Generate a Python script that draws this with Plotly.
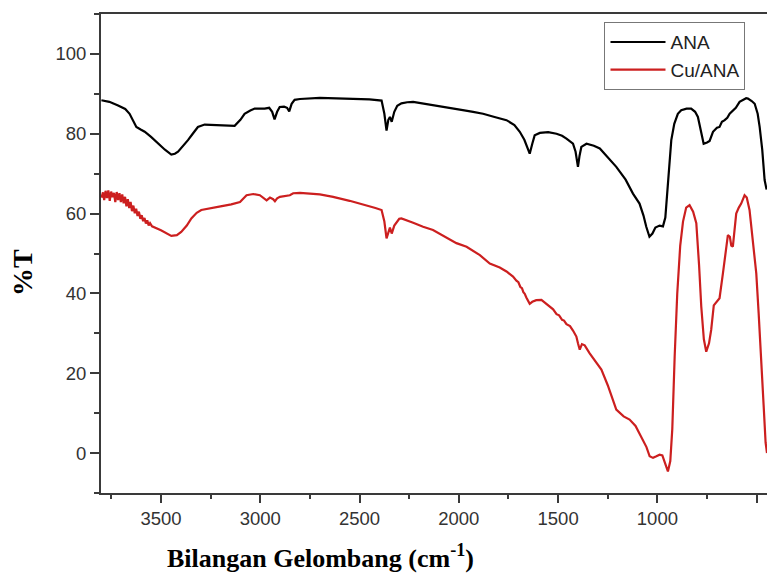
import plotly.graph_objects as go

# ---- data ----
ana_wn = [3800, 3760, 3716, 3680, 3658, 3640, 3624, 3600, 3582, 3550, 3515, 3480, 3448, 3430, 3414,
          3390, 3364, 3340, 3314, 3280, 3200, 3129, 3100, 3079, 3050, 3028, 2978, 2955, 2940, 2928,
          2915, 2902, 2880, 2865, 2854, 2842, 2827, 2800, 2700, 2600, 2515, 2450, 2389, 2375, 2364,
          2355, 2347, 2338, 2325, 2310, 2289, 2260, 2230, 2150, 2096, 2046, 1980, 1928, 1878, 1820,
          1760, 1720, 1693, 1670, 1655, 1643, 1630, 1618, 1592, 1550, 1508, 1480, 1458, 1425, 1412,
          1400, 1392, 1383, 1357, 1320, 1290, 1250, 1207, 1160, 1123, 1090, 1070, 1056, 1040, 1025,
          1010, 989, 972, 960, 950, 940, 930, 915, 897, 880, 853, 830, 810, 796, 780,
          767, 750, 737, 720, 712, 700, 687, 675, 661, 648, 636, 620, 605, 586, 565,
          553, 544, 525, 510, 495, 485, 472, 460, 450]
ana_t = [88.4, 88.0, 87.1, 86.2, 85.0, 83.2, 81.7, 81.0, 80.5, 79.2, 77.5, 76.0, 74.8, 75.0, 75.5,
         76.8, 78.4, 80.0, 81.7, 82.3, 82.1, 82.0, 83.5, 85.0, 85.8, 86.3, 86.3, 86.5, 85.5, 83.6,
         85.5, 86.7, 86.8, 86.5, 85.6, 87.5, 88.5, 88.7, 89.0, 88.9, 88.8, 88.6, 88.3, 85.0, 80.8,
         83.5, 84.2, 83.0, 85.5, 87.0, 87.6, 87.9, 88.0, 87.3, 86.8, 86.3, 85.9, 85.5, 85.0, 84.2,
         83.4, 82.2, 80.5, 78.5, 76.5, 75.0, 77.5, 79.6, 80.2, 80.4, 80.0, 79.5, 78.8, 77.5, 75.5,
         71.7, 74.5, 76.7, 77.5, 77.0, 76.3, 74.0, 71.7, 68.5, 65.0, 62.5, 59.5, 56.7, 54.2, 55.0,
         56.5, 57.0, 56.8, 59.0, 65.0, 72.0, 78.4, 82.5, 85.0, 85.9, 86.3, 86.3, 85.5, 84.2, 80.5,
         77.5, 77.8, 78.2, 80.5, 80.9, 81.5, 81.7, 83.0, 83.4, 84.0, 85.0, 85.9, 86.5, 88.0, 88.5,
         88.9, 88.8, 88.2, 87.5, 85.0, 81.7, 76.0, 68.4, 66.0]

cu_wn = [3800, 3792, 3786, 3779, 3772, 3765, 3758, 3751, 3744, 3737, 3730, 3723, 3716, 3709, 3702,
         3695, 3688, 3681, 3674, 3667, 3660, 3653, 3646, 3639, 3632, 3625, 3618, 3611, 3604, 3597,
         3590, 3583, 3576, 3569, 3562, 3555, 3545, 3530,
         3500, 3448, 3420, 3398, 3370, 3347, 3320, 3297, 3250, 3200, 3146, 3102, 3069, 3035, 3002,
         2978, 2968, 2951, 2935, 2926, 2915, 2901, 2875, 2851, 2834, 2800, 2700, 2633, 2550, 2465,
         2420, 2389, 2375, 2364, 2355, 2347, 2338, 2325, 2300, 2289, 2230, 2180, 2130, 2070, 2012,
         1961, 1894, 1844, 1794, 1760, 1727, 1710, 1700, 1690, 1682, 1675, 1668, 1660, 1643, 1630,
         1610, 1584, 1560, 1542, 1525, 1508, 1495, 1480, 1470, 1458, 1440, 1425, 1408, 1400, 1391,
         1380, 1366, 1341, 1310, 1282, 1250, 1220, 1207, 1170, 1140, 1110, 1090, 1073, 1055, 1039,
         1022, 1005, 989, 975, 960, 947, 935, 925, 913, 900, 885, 871, 855, 838, 820,
         804, 790, 779, 766, 754, 740, 729, 716, 707, 687, 670, 653, 645, 635, 628,
         620, 612, 603, 590, 578, 561, 550, 536, 520, 502, 490, 477, 465, 455, 448]
cu_t = [64.0, 65.3, 63.4, 65.7, 63.9, 65.8, 63.2, 65.5, 64.1, 65.2, 62.9, 65.4, 63.4, 65.1, 62.9,
        64.8, 62.6, 64.2, 61.8, 63.6, 61.4, 62.9, 60.6, 62.0, 60.1, 61.2, 59.4, 60.5, 58.7, 59.6,
        58.1, 58.9, 57.5, 58.3, 57.0, 57.6, 56.8, 56.5,
        55.8, 54.4, 54.6, 55.4, 57.0, 58.8, 60.2, 60.9, 61.4, 61.8, 62.3, 62.9, 64.6, 64.9, 64.6,
        63.6, 63.3, 64.0, 63.6, 63.1, 63.8, 64.2, 64.4, 64.6, 65.1, 65.2, 64.8, 64.2, 63.2, 62.1,
        61.4, 60.9, 58.0, 53.8, 55.5, 56.5, 55.0, 57.0, 58.7, 58.8, 57.7, 56.7, 55.9, 54.3, 52.6,
        51.7, 49.6, 47.5, 46.5, 45.5, 44.2, 43.2, 42.8, 41.6, 41.3, 40.3, 39.9, 39.0, 37.4, 37.9,
        38.3, 38.4, 37.5, 36.7, 36.0, 34.8, 34.5, 33.4, 33.2, 32.3, 31.8, 30.7, 29.2, 27.5, 25.9,
        27.3, 27.0, 25.0, 22.8, 20.9, 17.0, 13.0, 10.9, 9.2, 8.4, 6.8, 5.0, 3.4, 1.5, -0.8,
        -1.2, -0.8, -0.4, -0.6, -2.5, -4.6, -2.0, 6.0, 24.2, 40.0, 52.0, 58.0, 61.5, 62.1, 60.5,
        57.6, 47.0, 36.7, 28.5, 25.4, 27.5, 30.9, 37.0, 37.5, 38.8, 45.0, 52.6, 54.6, 54.2, 52.0,
        51.7, 56.0, 60.0, 61.5, 62.5, 64.6, 64.0, 60.9, 54.0, 45.0, 35.0, 24.2, 12.0, 2.6, 0.0]

series_names = ["ANA", "Cu/ANA"]
series_colors = ["#000000", "#cc1f1f"]
x_title = "<b>Bilangan Gelombang (cm<sup>-1</sup>)</b>"
y_title = "<b>%T</b>"

fig = go.Figure()
fig.add_trace(go.Scatter(x=ana_wn, y=ana_t, mode="lines", name=series_names[0],
                         line=dict(color=series_colors[0], width=2.2)))
fig.add_trace(go.Scatter(x=cu_wn, y=cu_t, mode="lines", name=series_names[1],
                         line=dict(color=series_colors[1], width=2.2)))

axis_col = "#3a3a3a"
tick_font = dict(family="Liberation Sans, Arial, sans-serif", size=18.5, color="#333333")

fig.update_layout(
    width=767, height=576,
    margin=dict(l=101, r=0, t=14, b=83),
    paper_bgcolor="white", plot_bgcolor="white",
    showlegend=True,
    legend=dict(x=0.756, y=0.983, xanchor="left", yanchor="top",
                bgcolor="white", bordercolor="#777777", borderwidth=1,
                font=dict(family="Liberation Sans, Arial, sans-serif", size=19, color="#222222"),
                itemwidth=55, tracegroupgap=0),
    xaxis=dict(range=[3802, 448], tickmode="linear", tick0=500, dtick=500,
               ticks="outside", ticklen=8, tickwidth=1.5, tickcolor=axis_col,
               minor=dict(dtick=250, tick0=250, ticks="outside", ticklen=4, tickwidth=1.5, tickcolor=axis_col),
               showline=True, linecolor=axis_col, linewidth=2, mirror=True,
               showgrid=False, zeroline=False, tickfont=tick_font),
    yaxis=dict(range=[-10, 110], tickmode="linear", tick0=0, dtick=20,
               ticks="outside", ticklen=9, tickwidth=1.5, tickcolor=axis_col,
               minor=dict(dtick=10, tick0=0, ticks="outside", ticklen=5, tickwidth=1.5, tickcolor=axis_col),
               showline=True, linecolor=axis_col, linewidth=2,
               showgrid=False, zeroline=False, tickfont=tick_font),
    annotations=[
        dict(text=x_title, xref="paper", yref="paper", x=0.329, y=-0.132,
             xanchor="center", yanchor="middle", showarrow=False,
             font=dict(family="Liberation Serif, Times New Roman, serif", size=26, color="black")),
        dict(text=y_title, xref="paper", yref="paper", x=-0.119, y=0.461,
             xanchor="center", yanchor="middle", showarrow=False, textangle=-90,
             font=dict(family="Liberation Serif, Times New Roman, serif", size=28, color="black")),
    ],
)

fig.write_html("out.html")
